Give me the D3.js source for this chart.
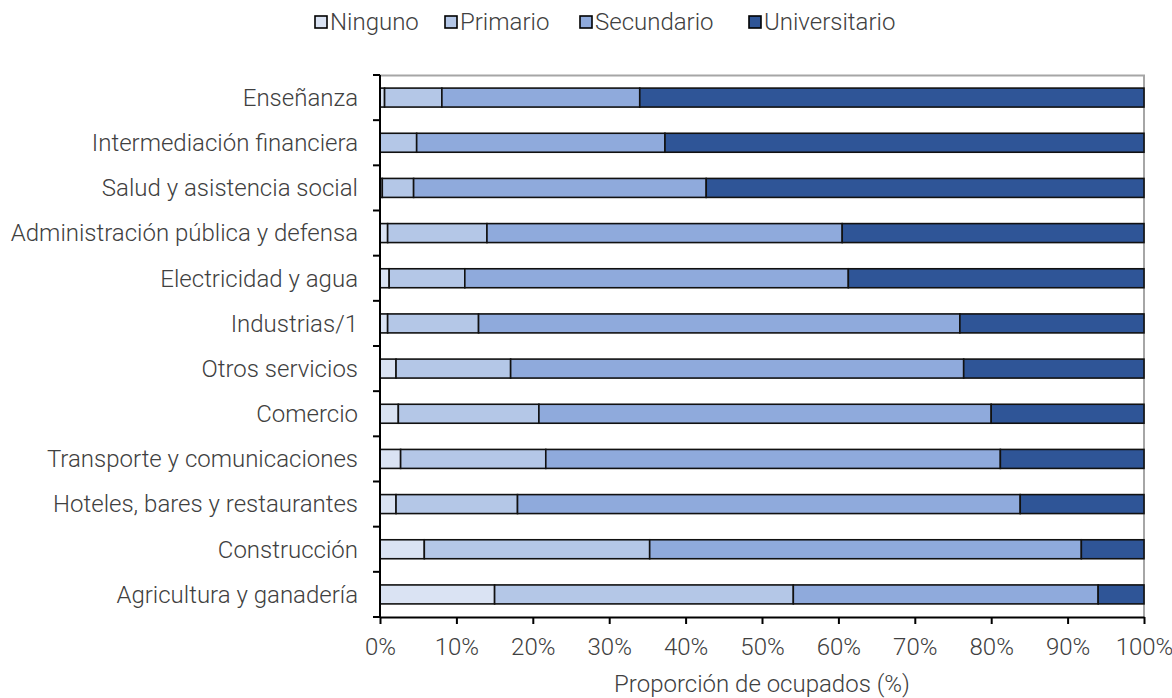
<!DOCTYPE html>
<html>
<head>
<meta charset="utf-8">
<script src="https://cdn.jsdelivr.net/npm/d3@7"></script>
<style>
  body { margin: 0; background: #fff; }
  text { font-family: Roboto, "Noto Sans", sans-serif; font-weight: 300; fill: #404040; }
</style>
</head>
<body>
<div id="chart"></div>
<script>
const categories = [
    "Enseñanza",
    "Intermediación financiera",
    "Salud y asistencia social",
    "Administración pública y defensa",
    "Electricidad y agua",
    "Industrias/1",
    "Otros servicios",
    "Comercio",
    "Transporte y comunicaciones",
    "Hoteles, bares y restaurantes",
    "Construcción",
    "Agricultura y ganadería"
]
const seriesNames = ["Ninguno", "Primario", "Secundario", "Universitario"]
const ninguno       = [0.6, 0.0, 0.3, 1.0, 1.2, 1.0, 2.1, 2.4, 2.7, 2.1, 5.8, 15.0]
const primario      = [7.5, 4.8, 4.1, 13.0, 9.9, 11.9, 15.0, 18.4, 19.0, 15.9, 29.5, 39.1]
const secundario    = [25.9, 32.5, 38.3, 46.5, 50.2, 63.0, 59.3, 59.2, 59.5, 65.8, 56.5, 39.9]
const universitario = [66.0, 62.7, 57.3, 39.5, 38.7, 24.1, 23.6, 20.0, 18.8, 16.2, 8.2, 6.0]
const xTicks = [0, 10, 20, 30, 40, 50, 60, 70, 80, 90, 100]
const colors = ["#dae3f3", "#b4c7e7", "#8faadc", "#2f5597"]

const width = 1172
const height = 698
const margin = {top: 75, right: 28, bottom: 81, left: 380}
const boundedWidth = width - margin.left - margin.right
const boundedHeight = height - margin.top - margin.bottom
const fontSize = "24px"

const table = categories.map((c, i) => ({
    category: c,
    Ninguno: ninguno[i],
    Primario: primario[i],
    Secundario: secundario[i],
    Universitario: universitario[i]
}))
const stacked = d3.stack().keys(seriesNames)(table)

const svg = d3.select("#chart").append("svg")
    .attr("width", width)
    .attr("height", height)

const chart = svg.append("g")
    .attr("transform", `translate(${margin.left}, ${margin.top})`)

const xScale = d3.scaleLinear().domain([0, 100]).range([0, boundedWidth])
const yScale = d3.scaleBand().domain(categories).range([0, boundedHeight]).paddingInner(0.58).paddingOuter(0.29)
const bandStep = boundedHeight / categories.length

// plot frame (top and right in grey)
chart.append("path")
    .attr("d", `M0,0.5 H${boundedWidth} V${boundedHeight}`)
    .attr("fill", "none")
    .attr("stroke", "#a6a6a6")
    .attr("stroke-width", 2)

// bars
chart.selectAll(".series")
    .data(stacked)
    .join("g")
        .attr("class", "series")
        .attr("fill", (d, i) => colors[i])
    .selectAll("rect")
    .data(d => d)
    .join("rect")
        .attr("x", d => xScale(d[0]))
        .attr("width", d => xScale(d[1]) - xScale(d[0]))
        .attr("y", d => yScale(d.data.category))
        .attr("height", yScale.bandwidth())
        .attr("stroke", "#111")
        .attr("stroke-width", 1.6)

// y axis with ticks on band boundaries
chart.append("line")
    .attr("x1", 0).attr("x2", 0)
    .attr("y1", 0).attr("y2", boundedHeight)
    .attr("stroke", "#000").attr("stroke-width", 2)

chart.selectAll(".y-tick")
    .data(d3.range(categories.length + 1))
    .join("line")
        .attr("class", "y-tick")
        .attr("x1", -7).attr("x2", 0)
        .attr("y1", d => d * bandStep).attr("y2", d => d * bandStep)
        .attr("stroke", "#000").attr("stroke-width", 2)

chart.selectAll(".y-label")
    .data(categories)
    .join("text")
        .attr("class", "y-label")
        .attr("x", -22)
        .attr("y", d => yScale(d) + yScale.bandwidth() / 2)
        .attr("dy", "0.35em")
        .attr("text-anchor", "end")
        .style("font-size", fontSize)
        .text(d => d)

// x axis
const xAxis = d3.axisBottom(xScale)
    .tickValues(xTicks)
    .tickFormat(d => d + "%")
    .tickSize(7)
    .tickSizeOuter(0)

const xAxisGroup = chart.append("g")
    .attr("transform", `translate(0, ${boundedHeight})`)
    .call(xAxis)
xAxisGroup.select(".domain").attr("stroke", "#000").attr("stroke-width", 2)
xAxisGroup.selectAll(".tick line").attr("stroke", "#000").attr("stroke-width", 2)
xAxisGroup.selectAll(".tick text")
    .attr("y", 21)
    .style("font-size", fontSize)
    .style("font-family", "Roboto, sans-serif")
    .attr("fill", "#404040")

chart.append("text")
    .attr("x", boundedWidth / 2)
    .attr("y", boundedHeight + 75)
    .attr("text-anchor", "middle")
    .style("font-size", fontSize)
    .text("Proporción de ocupados (%)")

// legend
const legendX = [315, 445, 580, 749]
const legend = svg.append("g")
const items = legend.selectAll("g")
    .data(seriesNames)
    .join("g")
        .attr("transform", (d, i) => `translate(${legendX[i]}, 22)`)
items.append("rect")
    .attr("x", 0).attr("y", -6)
    .attr("width", 12).attr("height", 12)
    .attr("fill", (d, i) => colors[i])
    .attr("stroke", "#000")
    .attr("stroke-width", 1.6)
items.append("text")
    .attr("x", 15)
    .attr("dy", "0.35em")
    .style("font-size", fontSize)
    .text(d => d)
</script>
</body>
</html>
